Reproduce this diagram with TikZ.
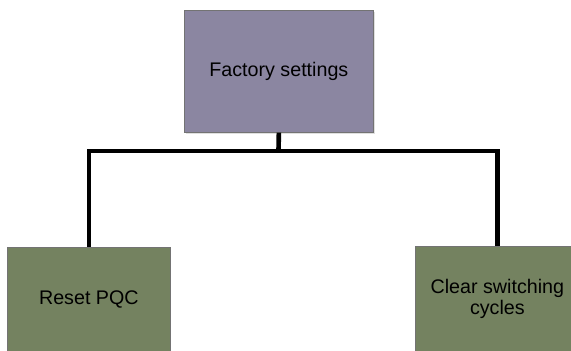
\documentclass[tikz,border=0pt]{standalone}
\usepackage{fontspec}
\setmainfont{Liberation Sans}
\usetikzlibrary{shadows}

\definecolor{topfill}{HTML}{8B86A1}
\definecolor{leaffill}{HTML}{748260}

\tikzset{
  box/.style={draw=black!55, line width=0.5pt, anchor=north west, inner sep=2pt,
    font=\fontsize{14}{14.5}\selectfont, align=center},
  link/.style={line width=3.3pt}
}

\begin{document}
\begin{tikzpicture}[x=0.025cm,y=-0.025cm]
  \useasboundingbox (0,0) rectangle (571,350);
  \clip (0,0) rectangle (571,350);
  \node[box, fill=topfill, minimum width=189*0.025cm, minimum height=122*0.025cm,
    drop shadow={opacity=0.25, shadow xshift=1pt, shadow yshift=-1.5pt}]
    (top) at (184,10) {Factory settings};
  \node[box, fill=leaffill, minimum width=163*0.025cm, minimum height=104*0.025cm]
    (reset) at (7,247) {Reset PQC};
  \node[box, fill=leaffill, minimum width=164*0.025cm, minimum height=105*0.025cm]
    (clear) at (415,246) {Clear switching\\cycles};
  \coordinate (split) at (278.5,151);
  \draw[link] (top.south) -- (split);
  \draw[link] (split) -| (reset.north);
  \draw[link] (split) -| (clear.north);
\end{tikzpicture}
\end{document}
